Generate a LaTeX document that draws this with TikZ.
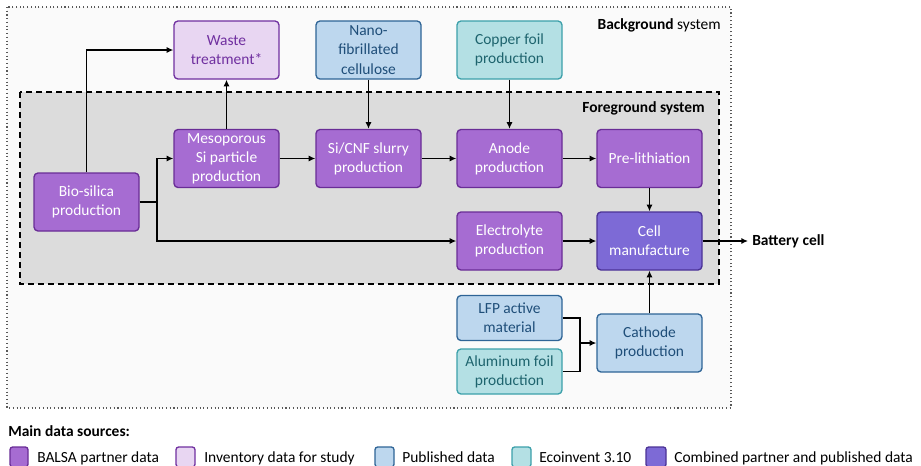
\documentclass[tikz,border=0pt]{standalone}
\usepackage{fontspec}
\setmainfont{Carlito}
\usetikzlibrary{arrows.meta}
\definecolor{balsaF}{RGB}{166,108,210}
\definecolor{balsaD}{RGB}{105,45,150}
\definecolor{invF}{RGB}{232,214,242}
\definecolor{invD}{RGB}{112,48,160}
\definecolor{pubF}{RGB}{189,215,238}
\definecolor{pubD}{RGB}{46,100,150}
\definecolor{pubT}{RGB}{31,78,121}
\definecolor{ecoF}{RGB}{180,224,228}
\definecolor{ecoD}{RGB}{60,160,170}
\definecolor{ecoT}{RGB}{30,100,110}
\definecolor{combF}{RGB}{125,106,214}
\definecolor{combD}{RGB}{75,50,150}
\definecolor{bgF}{RGB}{250,250,250}
\definecolor{fgF}{RGB}{220,220,220}
\newcommand{\fsz}{\fontsize{11.6pt}{14.4pt}\selectfont}
\begin{document}
\begin{tikzpicture}[x=0.75pt,y=-0.75pt,
  txt/.style={font=\fsz},
  btxt/.style={font=\fsz\bfseries},
  box/.style={txt, draw, line width=1pt, rounded corners=3pt, align=center,
    minimum width=78.75pt, minimum height=43.5pt, inner sep=2pt},
  shortbox/.style={box, minimum height=33.75pt},
  balsa/.style={fill=balsaF, draw=balsaD, text=white},
  inv/.style={fill=invF, draw=invD, text=invD},
  pub/.style={fill=pubF, draw=pubD, text=pubT},
  eco/.style={fill=ecoF, draw=ecoD, text=ecoT},
  comb/.style={fill=combF, draw=combD, text=white},
  arr/.style={line width=1.2pt, -{Latex[length=5pt,width=4.6pt]}},
  ln/.style={line width=1.2pt},
  leg/.style={draw, line width=1pt, rounded corners=2pt},
  legtxt/.style={txt, anchor=base west, inner sep=0pt}
]
\useasboundingbox (0,0) rectangle (921,465);
% system frames
\draw[gray!70!black, dotted, line width=0.8pt, fill=bgF] (7,7) rectangle (731,408);
\draw[black, dash pattern=on 4.5pt off 3pt, line width=1.1pt, fill=fgF] (20,92) rectangle (719,284);
\node[txt, anchor=base east, inner sep=0pt] (bglabel) at (721,29) {\textbf{Background} system};
\node[btxt, anchor=base east, inner sep=0pt] (fglabel) at (705,112) {Foreground system};
% nodes
\node[box, inv] (waste) at (226.5,50) {Waste\\treatment*};
\node[box, pub] (nano) at (368.5,50) {Nano-\\fibrillated\\cellulose};
\node[box, eco] (copper) at (509.5,50) {Copper foil\\production};
\node[box, balsa] (meso) at (226.5,158.5) {Mesoporous\\Si particle\\production};
\node[box, balsa] (slurry) at (368.5,158.5) {Si/CNF slurry\\production};
\node[box, balsa] (anode) at (509.5,158.5) {Anode\\production};
\node[box, balsa] (prelith) at (649.5,158.5) {Pre-lithiation};
\node[box, balsa] (bio) at (86.5,202) {Bio-silica\\production};
\node[box, balsa] (electro) at (509.5,241) {Electrolyte\\production};
\node[box, comb] (cell) at (649.5,241) {Cell\\manufacture};
\node[shortbox, pub] (lfp) at (509.5,318) {LFP active\\material};
\node[shortbox, eco] (al) at (509.5,371.5) {Aluminum foil\\production};
\node[box, pub] (cathode) at (649.5,343) {Cathode\\production};
\node[btxt, anchor=west, inner sep=3pt] (battery) at (748,241) {Battery cell};
% connectors
\coordinate (j1) at (157,202);
\coordinate (j2) at (580,343);
\draw[arr] (bio.north) |- (waste.west);
\draw[ln] (bio.east) -- (j1);
\draw[arr] (j1) |- (meso.west);
\draw[arr] (j1) |- (electro.west);
\draw[arr] (meso.north) -- (waste.south);
\draw[arr] (meso.east) -- (slurry.west);
\draw[arr] (nano.south) -- (slurry.north);
\draw[arr] (slurry.east) -- (anode.west);
\draw[arr] (copper.south) -- (anode.north);
\draw[arr] (anode.east) -- (prelith.west);
\draw[arr] (prelith.south) -- (cell.north);
\draw[arr] (electro.east) -- (cell.west);
\draw[arr] (cell.east) -- (battery.west);
\draw[ln] (lfp.east) -| (j2);
\draw[ln] (al.east) -| (j2);
\draw[arr] (j2) -- (cathode.west);
\draw[arr] (cathode.north) -- (cell.south);
% legend
\node[btxt, anchor=base west, inner sep=0pt] (legtitle) at (8,436) {Main data sources:};
\draw[leg, fill=balsaF, draw=balsaD] (10,447) rectangle (28,467);
\node[legtxt] (l1) at (37,462) {BALSA partner data};
\draw[leg, fill=invF, draw=invD] (176,447) rectangle (195,467);
\node[legtxt] (l2) at (204,462) {Inventory data for study};
\draw[leg, fill=pubF, draw=pubD] (375,447) rectangle (394,467);
\node[legtxt] (l3) at (402,462) {Published data};
\draw[leg, fill=ecoF, draw=ecoD] (512,447) rectangle (531,467);
\node[legtxt] (l4) at (539,462) {Ecoinvent 3.10};
\draw[leg, fill=combF, draw=combD] (646,447) rectangle (666,467);
\node[legtxt] (l5) at (674,462) {Combined partner and published data};
\end{tikzpicture}
\end{document}
